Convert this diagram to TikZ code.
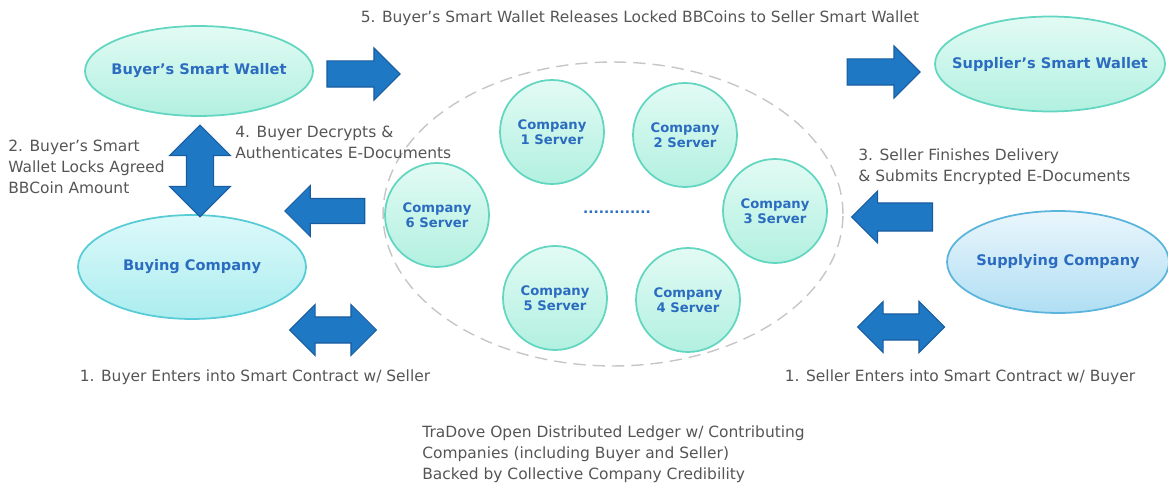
\documentclass[tikz,border=0pt]{standalone}
\usepackage{fontspec}
\setmainfont{DejaVu Sans}
\usepackage{tikz}
\usepackage{xcolor}
\usetikzlibrary{arrows, positioning, shapes.geometric, shapes.arrows}

\definecolor{txtgray}{HTML}{555555}
\definecolor{lblblue}{HTML}{2B6CC0}
\definecolor{arrblue}{HTML}{1F78C4}
\definecolor{arrdark}{HTML}{185C9E}
\definecolor{mintline}{HTML}{62D6C0}
\definecolor{minttop}{HTML}{E2FBF4}
\definecolor{mintbot}{HTML}{B2F0E0}
\definecolor{cyanline}{HTML}{58CCD6}
\definecolor{cyantop}{HTML}{DDF9FA}
\definecolor{cyanbot}{HTML}{ABEDEF}
\definecolor{skyline}{HTML}{5AB4DC}
\definecolor{skytop}{HTML}{EAF6FC}
\definecolor{skybot}{HTML}{B0DEF3}

\begin{document}
\begin{tikzpicture}[x=0.02cm, y=-0.02cm, font=\fontsize{8.8}{11.9}\selectfont, text=txtgray]
    \tikzstyle{party}=[ellipse, line width=1pt, inner sep=0pt, minimum width=4.56cm, minimum height=1.8cm]
    \tikzstyle{partytext}=[text=lblblue, font=\fontsize{8.3}{9}\selectfont\bfseries]
    \tikzstyle{wallet}=[party, draw=mintline, top color=minttop, bottom color=mintbot]
    \tikzstyle{server}=[circle, draw=mintline, line width=1pt, top color=minttop, bottom color=mintbot, text=lblblue, font=\fontsize{7.5}{8.6}\selectfont\bfseries, align=center, minimum size=2.08cm, inner sep=0pt]
    \tikzstyle{fatarrow}=[single arrow, draw=arrdark, fill=arrblue, line width=0.6pt, inner xsep=0pt, inner ysep=0.25cm, single arrow head extend=0.26cm, minimum height=1.56cm]
    \tikzstyle{fatboth}=[double arrow, draw=arrdark, fill=arrblue, line width=0.6pt, inner xsep=0pt, inner ysep=0.25cm, double arrow head extend=0.25cm, minimum height=1.74cm]
    \tikzstyle{note}=[inner sep=0pt, align=left]

    \useasboundingbox (0,0) rectangle (1168,489);

    % ledger and servers
    \node[ellipse, draw=gray!45, dashed, dash pattern=on 7pt off 4pt, line width=0.8pt, minimum width=9.2cm, minimum height=6.08cm] (L) at (613,214) {};
    \node[server] (C1) at (552,132) {Company\\1 Server};
    \node[server] (C2) at (685,135) {Company\\2 Server};
    \node[server] (C3) at (775,211) {Company\\3 Server};
    \node[server] (C4) at (688,300) {Company\\4 Server};
    \node[server] (C5) at (555,298) {Company\\5 Server};
    \node[server] (C6) at (437,215) {Company\\6 Server};
    \node[text=lblblue, font=\fontsize{7.8}{9}\selectfont\bfseries] (dots) at (617,212) {.............};

    % parties
    \node[wallet, label={[partytext]center:Buyer’s Smart Wallet}] (BW) at (199,71) {};
    \node[wallet, minimum width=4.6cm, minimum height=1.9cm, label={[partytext]center:Supplier’s Smart Wallet}] (SW) at (1050,64) {};
    \node[party, draw=cyanline, top color=cyantop, bottom color=cyanbot, minimum height=2.08cm, label={[partytext]center:Buying Company}] (BC) at (192,267) {};
    \node[party, draw=skyline, top color=skytop, bottom color=skybot, minimum width=4.44cm, minimum height=2.04cm, label={[partytext]center:Supplying Company}] (SC) at (1058,262) {};

    % block arrows
    \node[fatarrow, minimum height=1.46cm] (A5l) at (357,74) {};
    \node[fatarrow, minimum height=1.46cm] (A5r) at (877,72) {};
    \node[fatboth, rotate=90, minimum height=1.84cm, inner ysep=0.26cm, double arrow head extend=0.34cm] (A2) at (200,171) {};
    \node[fatarrow, rotate=180, minimum height=1.6cm, inner ysep=0.24cm] (A4) at (331,211) {};
    \node[fatarrow, rotate=180, minimum height=1.62cm, inner ysep=0.27cm, single arrow head extend=0.24cm] (A3) at (899,217) {};
    \node[fatboth] (A1b) at (333,330) {};
    \node[fatboth] (A1s) at (901,327) {};

    % step texts
    \node (t5) at (640,18) {5. Buyer’s Smart Wallet Releases Locked BBCoins to Seller Smart Wallet};
    \node[note, anchor=west] (t2) at (8,167) {2. Buyer’s Smart\\Wallet Locks Agreed\\BBCoin Amount};
    \node[note, anchor=west] (t4) at (235,142) {4. Buyer Decrypts \&\\Authenticates E-Documents};
    \node[note, anchor=west] (t3) at (858,167) {3. Seller Finishes Delivery\\\& Submits Encrypted E-Documents};
    \node (t1b) at (255,377) {1. Buyer Enters into Smart Contract w/ Seller};
    \node (t1s) at (960,377) {1. Seller Enters into Smart Contract w/ Buyer};
    \node[note, anchor=west] (tL) at (422,454) {TraDove Open Distributed Ledger w/ Contributing\\Companies (including Buyer and Seller)\\Backed by Collective Company Credibility};
\end{tikzpicture}
\end{document}
